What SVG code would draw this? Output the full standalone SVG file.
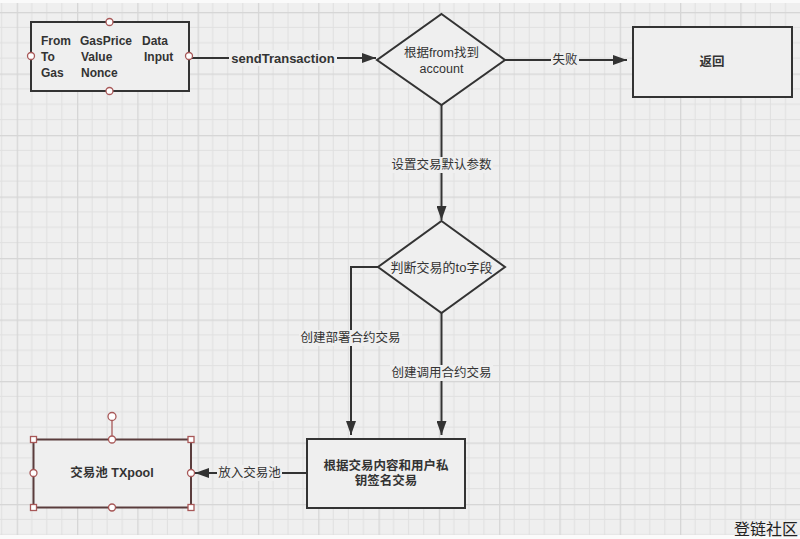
<svg xmlns="http://www.w3.org/2000/svg" width="800" height="539" viewBox="0 0 800 539">
<style>
.ln{fill:none;stroke:#333;stroke-width:2}
.box{fill:#efefef;stroke:#333;stroke-width:2}
.t{font-family:"Liberation Sans","Noto Sans CJK SC",sans-serif;fill:#333;font-size:12.5px}
.b{font-weight:bold}
.c{text-anchor:middle;dominant-baseline:central}
.lb{fill:#efefef}
.hc{fill:#fff;stroke:#a85858;stroke-width:1.3}
</style>
<defs>
<pattern id="grid" patternUnits="userSpaceOnUse" x="16.7" y="12" width="60.3" height="61.5">
<rect width="60.3" height="61.5" fill="#efefef"/>
<path d="M15.075 0V61.5M30.15 0V61.5M45.225 0V61.5M0 15.375H60.3M0 30.75H60.3M0 46.125H60.3" stroke="#e0e0e0" stroke-width="1"/>
<rect x="0" y="0" width="1.3" height="61.5" fill="#d6d6d6"/>
<rect x="0" y="0" width="60.3" height="1.3" fill="#d6d6d6"/>
</pattern>
<marker id="ah" markerWidth="14" markerHeight="10" refX="14" refY="5" orient="auto" markerUnits="userSpaceOnUse">
<path d="M0 0L14 5L0 10Z" fill="#333"/>
</marker>
</defs>
<rect width="800" height="539" fill="url(#grid)"/>
<rect x="0" y="0" width="800" height="3" fill="#fafafa"/>
<rect x="0" y="535" width="800" height="4" fill="#fbfbfb"/>

<g id="connectors">
<path class="ln" d="M189 58H376" marker-end="url(#ah)"/>
<rect class="lb" x="229" y="50" width="108" height="16"/>
<text class="t" x="283" y="58" text-anchor="middle" dominant-baseline="central" style="font-size:13px;font-weight:bold">sendTransaction</text>

<path class="ln" d="M505 60H627" marker-end="url(#ah)"/>
<rect class="lb" x="551" y="52" width="28" height="16"/>
<text class="t c" x="565" y="60">失败</text>

<path class="ln" d="M441.5 105V220" marker-end="url(#ah)"/>
<rect class="lb" x="390" y="157" width="103" height="16"/>
<text class="t c" x="441.5" y="165">设置交易默认参数</text>

<path class="ln" d="M378 267H351V435" marker-end="url(#ah)"/>
<rect class="lb" x="299" y="330" width="103" height="16"/>
<text class="t c" x="350.5" y="338">创建部署合约交易</text>

<path class="ln" d="M441.5 313V435" marker-end="url(#ah)"/>
<rect class="lb" x="390" y="365" width="103" height="16"/>
<text class="t c" x="441.5" y="373">创建调用合约交易</text>

<path class="ln" d="M307 473H195" marker-end="url(#ah)"/>
<rect class="lb" x="217" y="465" width="65" height="16"/>
<text class="t c" x="249.5" y="473">放入交易池</text>
</g>

<g id="input">
<rect class="box" x="31" y="22" width="158" height="69"/>
<g class="t b" style="font-size:12px">
<text x="41" y="45">From</text><text x="80" y="45">GasPrice</text><text x="142" y="45">Data</text>
<text x="41" y="61">To</text><text x="81" y="61">Value</text><text x="144" y="61">Input</text>
<text x="41" y="77">Gas</text><text x="81" y="77">Nonce</text>
</g>
<circle class="hc" cx="109.5" cy="22" r="3.5"/>
<circle class="hc" cx="109.5" cy="91" r="3.5"/>
<circle class="hc" cx="31" cy="56" r="3.5"/>
<circle class="hc" cx="189" cy="56" r="3.5"/>
</g>

<g id="findAccount">
<path class="box" d="M441.5 14L505 60L441.5 105L377 60Z"/>
<text class="t c" x="441.5" y="53">根据from找到</text>
<text class="t c" x="441.5" y="69">account</text>
</g>

<g id="return">
<rect class="box" x="633" y="27" width="159" height="70"/>
<text class="t b c" x="712" y="62">返回</text>
</g>

<g id="checkTo">
<path class="box" d="M441.5 221L505 267L441.5 313L378 267Z"/>
<text class="t c" x="441.5" y="267" style="font-size:13px">判断交易的to字段</text>
</g>

<g id="sign">
<rect class="box" x="307" y="439" width="158" height="69"/>
<text class="t b c" x="386" y="466">根据交易内容和用户私</text>
<text class="t b c" x="386" y="481">钥签名交易</text>
</g>

<g id="txpool">
<rect x="33.5" y="439.5" width="157.5" height="68" fill="#efefef" stroke="#5a3c3c" stroke-width="2"/>
<text class="t b c" x="112" y="473">交易池 TXpool</text>
<line x1="112" y1="420" x2="112" y2="436" stroke="#a85858" stroke-width="1.3"/>
<circle class="hc" cx="112" cy="416.5" r="4"/>
<rect class="hc" x="30.5" y="436.5" width="6" height="6"/>
<rect class="hc" x="188" y="436.5" width="6" height="6"/>
<rect class="hc" x="30.5" y="504.5" width="6" height="6"/>
<rect class="hc" x="188" y="504.5" width="6" height="6"/>
<circle class="hc" cx="112" cy="439.5" r="3.5"/>
<circle class="hc" cx="112" cy="507.5" r="3.5"/>
<circle class="hc" cx="33.5" cy="473" r="3.5"/>
<circle class="hc" cx="191" cy="473" r="3.5"/>
</g>

<text x="734" y="535" font-family="'Noto Sans CJK SC',sans-serif" font-size="16" fill="#222">登链社区</text>
</svg>
